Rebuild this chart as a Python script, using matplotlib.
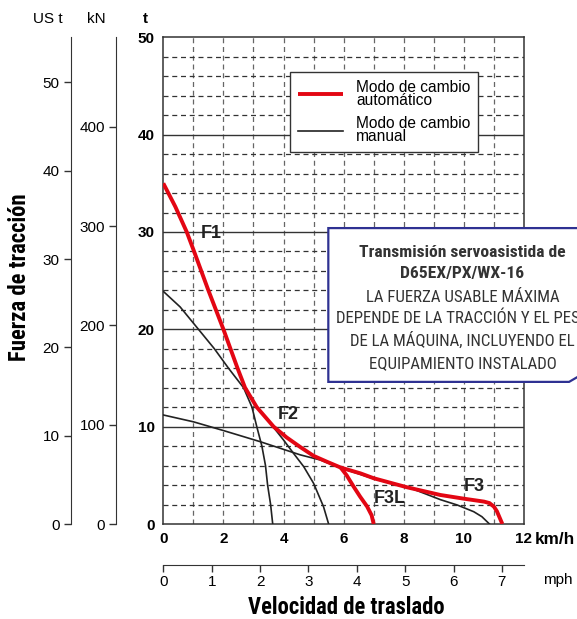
import numpy as np
import matplotlib as mpl
mpl.use('Agg')
import matplotlib.pyplot as plt
from matplotlib.patches import Polygon

# data: speed in km/h, tractive force in t
f1_auto_x = [0, 0.4, 0.78, 1.0, 1.5, 2.0, 2.47, 2.72, 3.11, 3.67, 4.1, 4.56, 5.0, 5.44, 5.9]
f1_auto_y = [35, 32.6, 30, 28.2, 24, 20, 16, 14, 12, 10, 8.9, 7.9, 7.0, 6.4, 5.8]
f3_auto_x = [5.9, 6.56, 7.0, 8.11, 9.22, 10.0, 10.67, 10.85, 11.0, 11.1, 11.28]
f3_auto_y = [5.8, 5.2, 4.7, 3.77, 2.98, 2.6, 2.3, 2.15, 1.78, 1.3, 0]
f3l_auto_x = [5.9, 6.1, 6.33, 6.55, 6.78, 6.93, 7.0]
f3l_auto_y = [5.8, 5.0, 3.85, 2.8, 1.8, 0.9, 0]

m1_x = [0, 0.56, 1.17, 1.7, 2.17, 2.67, 2.95, 3.11, 3.28, 3.4, 3.47, 3.57, 3.64]
m1_y = [23.9, 22.3, 20, 18, 16, 14, 12, 10, 8, 6, 4, 2, 0]
m2_x = [0, 1.0, 2.0, 3.22, 4.56, 5.22, 5.9, 7.0, 8.3, 9.22, 9.78, 10.33, 10.6, 10.85]
m2_y = [11.2, 10.5, 9.6, 8.46, 7.1, 6.58, 5.75, 4.65, 3.6, 2.5, 1.95, 1.26, 0.75, 0]
m3_x = [3.7, 4.0, 4.33, 4.67, 5.0, 5.33, 5.5]
m3_y = [9.8, 8.63, 7.27, 5.9, 4.18, 1.78, 0]

x_ticks = [0, 2, 4, 6, 8, 10, 12]
y_ticks = [0, 10, 20, 30, 40, 50]
mph_ticks = [0, 1, 2, 3, 4, 5, 6, 7]
ust_ticks = [0, 10, 20, 30, 40, 50]
kn_ticks = [0, 100, 200, 300, 400]

labels = ['F1', 'F2', 'F3L', 'F3']
label_x = [1.61, 4.16, 7.53, 10.35]
label_y = [29.8, 11.2, 2.57, 3.83]

note_title = ['Transmisión servoasistida de', 'D65EX/PX/WX-16']
note_body = ['LA FUERZA USABLE MÁXIMA', 'DEPENDE DE LA TRACCIÓN Y EL PESO',
             'DE LA MÁQUINA, INCLUYENDO EL', 'EQUIPAMIENTO INSTALADO']

cond = ['Roboto Condensed', 'Barlow Condensed', 'Liberation Sans']
plt.rcParams['font.family'] = ['Liberation Sans', 'DejaVu Sans']

W, H = 577, 619
fig = plt.figure(figsize=(W / 100, H / 100), dpi=100)

def fx(px):
    return px / W

def fy(py):
    return 1 - py / H

ax = fig.add_axes([fx(163.3), fy(524), (524 - 163.3) / W, (524 - 37.3) / H])
ax.set_xlim(0, 12)
ax.set_ylim(0, 50)

red = '#e30613'
dark = '#222222'

# grid
for v in range(1, 12):
    ax.axvline(v, color='#666666', lw=0.9, ls=(0, (4, 3)), zorder=1)
for h in range(2, 50, 2):
    if h % 10 == 0:
        ax.axhline(h, color='#333333', lw=1.0, zorder=1)
    else:
        ax.axhline(h, color='#333333', lw=0.9, ls=(0, (4, 3)), zorder=1)

ax.plot(m1_x, m1_y, color=dark, lw=1.2, zorder=3)
ax.plot(m2_x, m2_y, color=dark, lw=1.2, zorder=3)
ax.plot(m3_x, m3_y, color=dark, lw=1.2, zorder=3)
l_auto, = ax.plot(f1_auto_x, f1_auto_y, color=red, lw=2.8, zorder=4, solid_capstyle='butt')
ax.plot(f3_auto_x, f3_auto_y, color=red, lw=2.8, zorder=4, solid_capstyle='butt')
ax.plot(f3l_auto_x, f3l_auto_y, color=red, lw=2.8, zorder=4, solid_capstyle='butt')
l_man, = ax.plot([], [], color=dark, lw=1.2)

for s in ax.spines.values():
    s.set_color('#333333')
    s.set_linewidth(1.1)

ax.set_xticks(x_ticks)
ax.set_yticks(y_ticks)
ax.tick_params(length=0, labelsize=11, pad=6)
for t in ax.get_xticklabels() + ax.get_yticklabels():
    t.set_fontweight('bold')
ax.annotate('km/h', xy=(1, 0), xycoords='axes fraction', xytext=(8, -6),
            textcoords='offset points', ha='left', va='top', fontsize=12.3,
            fontweight='bold')

for lx, ly, lb in zip(label_x, label_y, labels):
    ax.text(lx, ly, lb, ha='center', va='center', fontsize=13, fontweight='bold',
            color='#222222', zorder=5)

leg = ax.legend([l_auto, l_man], ['Modo de cambio\nautomático', 'Modo de cambio\nmanual'],
                loc='upper left', bbox_to_anchor=(0.352, 0.928), fontsize=11.2,
                frameon=True, fancybox=False, edgecolor='#333333', framealpha=1,
                borderaxespad=0, borderpad=0.5, handlelength=2.9, handletextpad=0.84,
                labelspacing=0.55)
leg.get_frame().set_linewidth(1.0)
for t in leg.get_texts():
    t.set_linespacing(0.8)
leg.set_zorder(6)

# note box with cut corner
box = Polygon([(5.49, 30.4), (14.5, 30.4), (14.5, 16.4), (13.5, 14.6), (5.49, 14.6)],
              closed=True, facecolor='white', edgecolor='#2e3192', lw=1.6,
              clip_on=False, zorder=7)
ax.add_patch(box)
note_lines = note_title + note_body
note_base = [256.7, 278.3, 301.7, 323.3, 346, 368.3]
for i, (line, py) in enumerate(zip(note_lines, note_base)):
    ax.text(9.95, (524 - py) / 9.73, line, ha='center', va='baseline',
            fontsize=12.6 if i < 2 else 12.2,
            fontweight='bold' if i < 2 else 'normal', color='#333333', zorder=8,
            family=cond, clip_on=False)

# mph axis
sec = ax.secondary_xaxis(-0.0843, functions=(lambda x: x / 1.609344, lambda x: x * 1.609344))
sec.set_xticks(mph_ticks)
sec.tick_params(direction='out', length=5, width=1, labelsize=11, pad=2, color='#333333')
sec.spines['bottom'].set_color('#333333')

# US t and kN axes
ust = ax.secondary_yaxis(-0.257, functions=(lambda t: t / 0.907185, lambda u: u * 0.907185))
ust.set_yticks(ust_ticks)
ust.tick_params(direction='out', length=5, width=1, labelsize=11, pad=3, color='#333333')
ust.spines['left'].set_color('#333333')

kn = ax.secondary_yaxis(-0.131, functions=(lambda t: t * 9.80665, lambda k: k / 9.80665))
kn.set_yticks(kn_ticks)
kn.tick_params(direction='out', length=5, width=1, labelsize=11, pad=3, color='#333333')
kn.spines['left'].set_color('#333333')

fig.text(fx(48), fy(19), 'US t', ha='center', va='center', fontsize=11)
fig.text(fx(96.3), fy(19), 'kN', ha='center', va='center', fontsize=11)
fig.text(fx(145.5), fy(19), 't', ha='center', va='center', fontsize=11, fontweight='bold')
fig.text(fx(558), fy(580), 'mph', ha='center', va='center', fontsize=11)

fig.text(fx(20), fy(277), 'Fuerza de tracción', rotation=90, ha='center', va='center',
         fontsize=16.3, fontweight='bold', family=cond)
fig.text(fx(346), fy(608), 'Velocidad de traslado', ha='center', va='center',
         fontsize=16.3, fontweight='bold', family=cond)

fig.savefig('out.png', dpi=100)
